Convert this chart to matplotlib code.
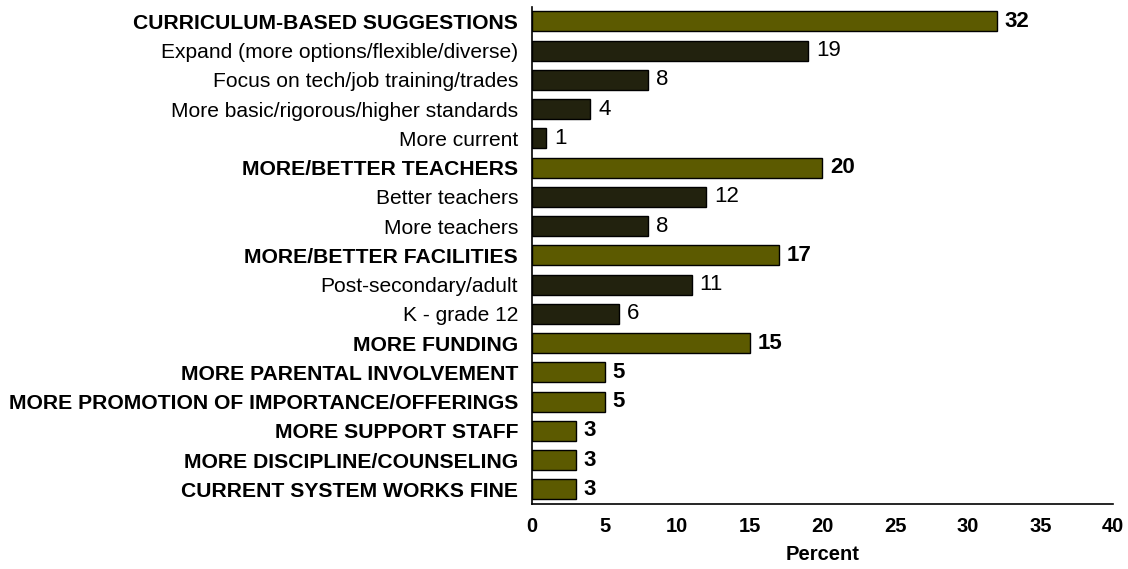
import matplotlib.pyplot as plt
import numpy as np

plt.rcParams['font.family'] = ['Liberation Sans', 'DejaVu Sans']

labels = [
    "CURRICULUM-BASED SUGGESTIONS",
    "Expand (more options/flexible/diverse)",
    "Focus on tech/job training/trades",
    "More basic/rigorous/higher standards",
    "More current",
    "MORE/BETTER TEACHERS",
    "Better teachers",
    "More teachers",
    "MORE/BETTER FACILITIES",
    "Post-secondary/adult",
    "K - grade 12",
    "MORE FUNDING",
    "MORE PARENTAL INVOLVEMENT",
    "MORE PROMOTION OF IMPORTANCE/OFFERINGS",
    "MORE SUPPORT STAFF",
    "MORE DISCIPLINE/COUNSELING",
    "CURRENT SYSTEM WORKS FINE",
]
values = [32, 19, 8, 4, 1, 20, 12, 8, 17, 11, 6, 15, 5, 5, 3, 3, 3]
is_group = [1, 0, 0, 0, 0, 1, 0, 0, 1, 0, 0, 1, 1, 1, 1, 1, 1]

group_color = "#5c5a00"
sub_color = "#22220e"

fig = plt.figure(figsize=(11.28, 5.69), dpi=100)
ax = fig.add_axes([0.4716, 0.1142, 0.515, 0.874])

y = np.arange(len(labels))
colors = [group_color if g else sub_color for g in is_group]
ax.barh(y, values, height=0.69, color=colors, edgecolor="black", linewidth=1)

# value labels: bold for the main categories, regular for sub-items
for yi, v, g in zip(y, values, is_group):
    ax.text(v + 0.55, yi, str(v), va="center", ha="left", fontsize=16,
            fontweight="bold" if g else "normal")

ax.set_yticks(y)
ax.set_yticklabels(labels)
for tl, g in zip(ax.get_yticklabels(), is_group):
    tl.set_fontweight("bold" if g else "normal")
    tl.set_fontsize(15.2 if g else 15.1)

ax.set_ylim(16.5, -0.5)
ax.set_xlim(0, 40)
ax.set_xticks(range(0, 41, 5))
ax.tick_params(axis="both", length=0)
ax.tick_params(axis="y", pad=10)
ax.tick_params(axis="x", pad=9, labelsize=14.5)
for tl in ax.get_xticklabels():
    tl.set_fontweight("bold")
ax.set_xlabel("Percent", fontsize=14.5, fontweight="bold", labelpad=7)

ax.spines["top"].set_visible(False)
ax.spines["right"].set_visible(False)
ax.spines["left"].set_linewidth(1.2)
ax.spines["bottom"].set_linewidth(1.2)

fig.savefig("out.png", dpi=100)
